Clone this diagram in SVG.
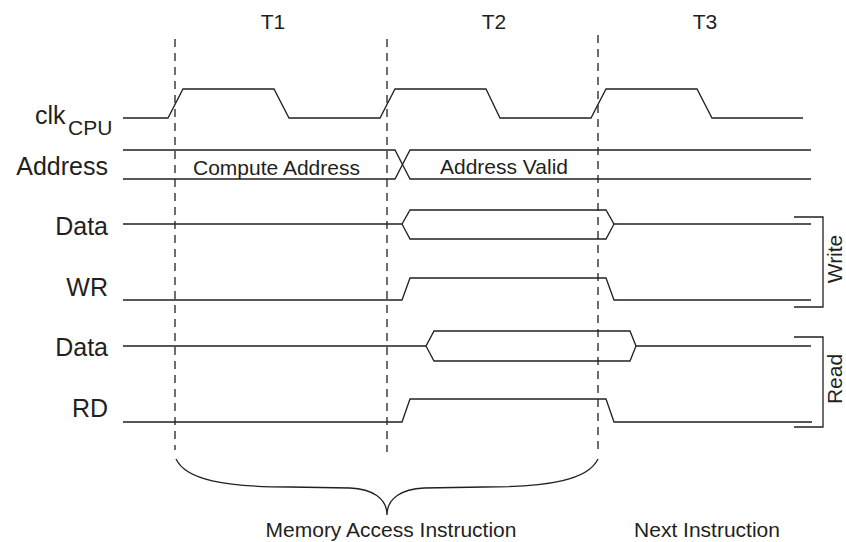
<svg xmlns="http://www.w3.org/2000/svg" width="846" height="542" viewBox="0 0 846 542">
  <style>
    .sig { fill: none; stroke: #231f20; stroke-width: 1.3; stroke-linejoin: miter; }
    .dash { fill: none; stroke: #231f20; stroke-width: 1.3; stroke-dasharray: 8 6; }
    .lbl { font-family: "Liberation Sans", Arial, sans-serif; font-size: 25px; fill: #231f20; }
    .sm { font-family: "Liberation Sans", Arial, sans-serif; font-size: 21px; fill: #231f20; }
  </style>
  <rect width="846" height="542" fill="#ffffff"/>

  <g id="dashed-markers">
    <line class="dash" x1="175" y1="39" x2="175" y2="450"/>
    <line class="dash" x1="387" y1="39" x2="387" y2="452"/>
    <line class="dash" x1="598" y1="35" x2="598" y2="454"/>
  </g>

  <g id="period-labels">
    <text class="sm" x="273" y="29" text-anchor="middle">T1</text>
    <text class="sm" x="494" y="29" text-anchor="middle">T2</text>
    <text class="sm" x="705" y="29" text-anchor="middle">T3</text>
  </g>

  <g id="clk">
    <text class="lbl" x="35" y="124" font-size="24">clk</text>
    <text class="sm" x="68" y="135" font-size="15">CPU</text>
    <path class="sig" d="M123,118 H168 L183,89 H274 L289,118 H380 L395,89 H486 L500,118 H591 L606,89 H697 L712,118 H803"/>
  </g>

  <g id="address">
    <text class="lbl" x="108" y="175" text-anchor="end">Address</text>
    <path class="sig" d="M123,150 H395 L410,179 H811"/>
    <path class="sig" d="M123,179 H395 L410,150 H811"/>
    <text class="sm" x="193" y="175">Compute Address</text>
    <text class="sm" x="440" y="174">Address Valid</text>
  </g>

  <g id="data-write">
    <text class="lbl" x="108" y="235" text-anchor="end">Data</text>
    <path class="sig" d="M123,224 H402 L410,210 H606 L614,224 H811"/>
    <path class="sig" d="M402,224 L410,239 H606 L614,224"/>
  </g>

  <g id="wr">
    <text class="lbl" x="108" y="296" text-anchor="end">WR</text>
    <path class="sig" d="M123,300 H402 L410,278 H606 L614,300 H811"/>
  </g>

  <g id="data-read">
    <text class="lbl" x="108" y="356" text-anchor="end">Data</text>
    <path class="sig" d="M123,346 H426 L434,331 H630 L636,346 H811"/>
    <path class="sig" d="M426,346 L434,361 H630 L636,346"/>
  </g>

  <g id="rd">
    <text class="lbl" x="108" y="417" text-anchor="end">RD</text>
    <path class="sig" d="M123,422 H402 L410,399 H606 L614,422 H812"/>
  </g>

  <g id="write-bracket">
    <path class="sig" d="M794,217 H823 V307 H794"/>
    <text class="sm" font-size="19" text-anchor="middle" transform="translate(842,259) rotate(-90)">Write</text>
  </g>

  <g id="read-bracket">
    <path class="sig" d="M794,337 H823 V427 H794"/>
    <text class="sm" font-size="19" text-anchor="middle" transform="translate(842,379) rotate(-90)">Read</text>
  </g>

  <g id="brace">
    <path class="sig" d="M176,459 C186,480 225,487 290,487 L350,488 C372,489 387,498 387,515 C387,498 402,489 424,488 L484,487 C549,487 588,480 598,459"/>
    <text class="sm" x="391" y="537" text-anchor="middle">Memory Access Instruction</text>
    <text class="sm" x="707" y="537" text-anchor="middle">Next Instruction</text>
  </g>
</svg>
